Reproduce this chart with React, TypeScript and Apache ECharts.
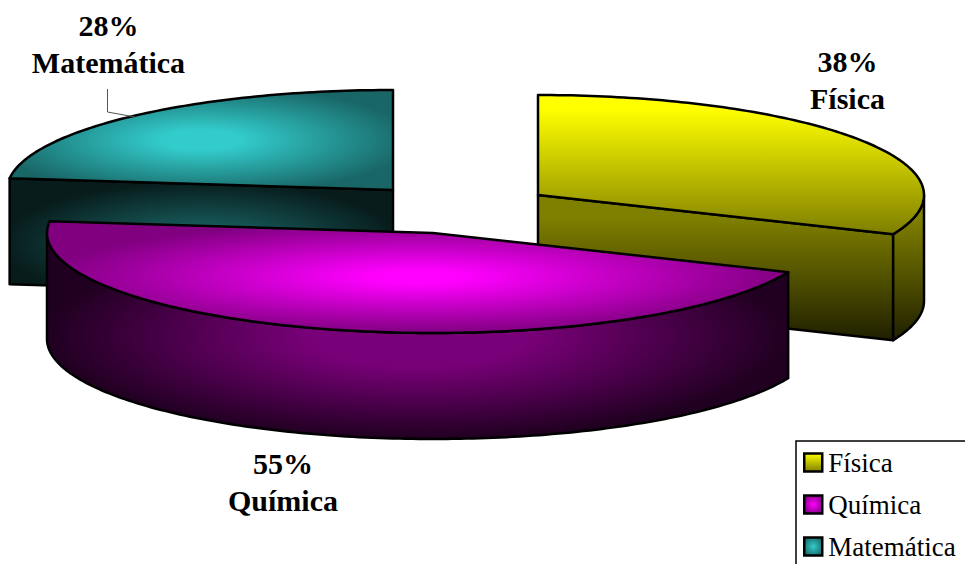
import React, { useEffect, useRef } from "react";
import * as echarts from "echarts";

const categories = ["Física", "Química", "Matemática"];
const values = [38, 55, 28];
const percentLabels = ["38%", "55%", "28%"];

const FONT = '"Liberation Serif", serif';
const RX = 386;
const RY = 100;
const DEPTH = 106;
// exploded slice centres
const centres = [
  [538, 195],
  [433, 233],
  [393, 190],
];
const labelAnchors = [
  [847.5, 61],
  [283, 463],
  [108.5, 25],
];
const LABEL_GAP = 37;

const { LinearGradient, RadialGradient } = echarts.graphic;
const stops = (a: string, b: string, mid?: number) =>
  mid
    ? [
        { offset: 0, color: a },
        { offset: mid, color: a },
        { offset: 1, color: b },
      ]
    : [
        { offset: 0, color: a },
        { offset: 1, color: b },
      ];

const topFills: any[] = [
  new LinearGradient(0, 95, 0, 235, stops("#ffff00", "#7d7d00", 0.1), true as any),
  new RadialGradient(0.5, 0.5, 0.5, stops("#ff00ff", "#800080", 0.12)),
  new RadialGradient(0.5, 0.5, 0.55, stops("#33cccc", "#196666", 0.18)),
];
const sideFills: any[] = [
  new LinearGradient(0, 195, 0, 342, stops("#808000", "#1e1e00", 0.15), true as any),
  new RadialGradient(0.5, 0.5, 0.5, stops("#780078", "#200020", 0.3)),
  new RadialGradient(0.5, 0.55, 0.52, stops("#1a6666", "#081c1c", 0.12)),
];
const legendFills: any[] = [
  new LinearGradient(0, 0, 0, 1, stops("#ffff00", "#808000")),
  new RadialGradient(0.5, 0.5, 0.6, stops("#ff00ff", "#800080")),
  new RadialGradient(0.5, 0.5, 0.6, stops("#33cccc", "#196666")),
];

const total = values.reduce((a, b) => a + b, 0);
const rad = (d: number) => (d * Math.PI) / 180;

function arc(cx: number, cy: number, from: number, to: number) {
  const pts: number[][] = [];
  const n = Math.max(2, Math.ceil(Math.abs(to - from)));
  for (let i = 0; i <= n; i++) {
    const t = rad(from + ((to - from) * i) / n);
    pts.push([cx + RX * Math.sin(t), cy - RY * Math.cos(t)]);
  }
  return pts;
}

function renderSlice(index: number) {
  return (_params: any, api: any) => {
    const value = api.value(0);
    const before = values.slice(0, index).reduce((a, b) => a + b, 0);
    const start = (before / total) * 360;
    const end = start + (value / total) * 360;
    const [cx, cy] = centres[index];
    const stroke = { stroke: "#000", lineWidth: 2.5, lineJoin: "round" };
    const children: any[] = [];

    // cut faces that look towards the viewer
    [start, end].forEach((a, k) => {
      const t = rad(a);
      const down = k === 0 ? -Math.sin(t) : Math.sin(t);
      if (down > 0.01) {
        const p = [cx + RX * Math.sin(t), cy - RY * Math.cos(t)];
        children.push({
          type: "polygon",
          shape: {
            points: [
              [cx, cy],
              p,
              [p[0], p[1] + DEPTH],
              [cx, cy + DEPTH],
            ],
          },
          style: { fill: sideFills[index], ...stroke },
        });
      }
    });

    // outer wall
    const wallFrom = Math.max(start, 90);
    const wallTo = Math.min(end, 270);
    if (wallTo > wallFrom) {
      const topArc = arc(cx, cy, wallFrom, wallTo);
      const lowArc = topArc.map((p) => [p[0], p[1] + DEPTH]).reverse();
      children.push({
        type: "polygon",
        shape: { points: topArc.concat(lowArc) },
        style: { fill: sideFills[index], ...stroke },
      });
    }

    // top surface
    children.push({
      type: "polygon",
      shape: { points: [[cx, cy] as number[]].concat(arc(cx, cy, start, end)) },
      style: { fill: topFills[index], ...stroke },
    });

    // labels
    const [lx, ly] = labelAnchors[index];
    [percentLabels[index], categories[index]].forEach((text, k) => {
      children.push({
        type: "text",
        style: {
          text,
          x: lx,
          y: ly + k * LABEL_GAP,
          align: "center",
          verticalAlign: "middle",
          font: `bold 30px ${FONT}`,
          fill: "#000",
        },
      });
    });

    // leader line of the outside label
    if (index === 2) {
      children.push({
        type: "polyline",
        shape: {
          points: [
            [107.5, 89],
            [107.5, 112],
            [135, 117],
          ],
        },
        style: { stroke: "#555", lineWidth: 1, fill: "none" },
      });
    }
    return { type: "group", children };
  };
}

export default function App() {
  const ref = useRef<HTMLDivElement>(null);
  useEffect(() => {
    document.body.style.margin = "0";
    const chart = echarts.init(ref.current!, undefined, { renderer: "svg" });
    chart.setOption({
      animation: false,
      backgroundColor: "#fff",
      legend: {
        orient: "vertical",
        left: 796,
        top: 441,
        height: 400,
        padding: [8, 60, 60, 7],
        itemGap: 15,
        itemWidth: 18,
        itemHeight: 18,
        selectedMode: false,
        borderColor: "#000",
        borderWidth: 1.5,
        textStyle: {
          fontFamily: FONT,
          fontSize: 27,
          color: "#000",
          padding: [0, 0, 0, 1],
        },
        data: categories.map((name, i) => ({
          name,
          icon: "rect",
          itemStyle: {
            color: legendFills[i],
            borderColor: "#000",
            borderWidth: 2.5,
          },
        })),
      },
      series: categories.map((name, i) => ({
        type: "custom",
        name,
        coordinateSystem: "none",
        z: i === 1 ? 3 : 2,
        silent: true,
        renderItem: renderSlice(i),
        data: [[values[i]]],
      })),
    });
    return () => chart.dispose();
  }, []);
  return <div ref={ref} style={{ width: 965, height: 564 }} />;
}
